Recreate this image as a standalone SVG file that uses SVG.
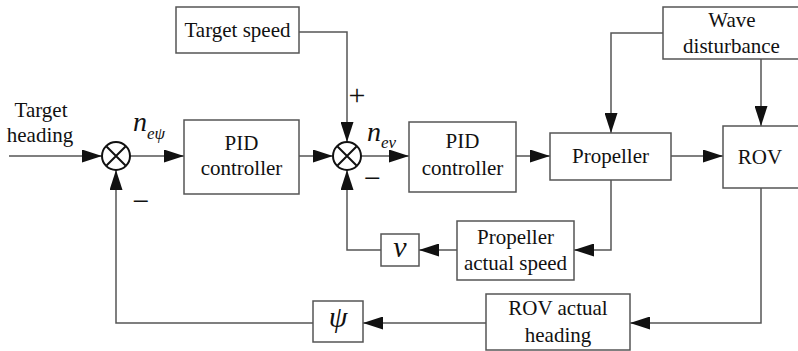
<svg xmlns="http://www.w3.org/2000/svg" width="798" height="351" viewBox="0 0 798 351" font-family="'Liberation Serif', 'Times New Roman', serif">
<defs>
<marker id="arr" markerUnits="userSpaceOnUse" markerWidth="20" markerHeight="13" refX="20" refY="6.5" orient="auto">
<path d="M0,0 L20,6.5 L0,13 z" fill="#111"/>
</marker>
<style>
.box{fill:#fff;stroke:#555;stroke-width:1.5}
.ln{fill:none;stroke:#555;stroke-width:1.5;marker-end:url(#arr)}
.sum{fill:#fff;stroke:#111;stroke-width:2}
.x{stroke:#111;stroke-width:2}
.t{font-family:"Liberation Serif","Times New Roman",serif;font-size:21px;fill:#111;text-anchor:middle}
.m{font-family:"Liberation Serif","Times New Roman",serif;font-style:italic;fill:#111}
.sg{font-family:"Liberation Serif","Times New Roman",serif;font-size:30px;fill:#111;text-anchor:middle}
</style>
</defs>
<rect width="798" height="351" fill="#fff"/>
<g id="connectors">
<path class="ln" d="M9,156 H102"/>
<path class="ln" d="M130,156 H184"/>
<path class="ln" d="M299,156 H333"/>
<path class="ln" d="M299,32 H347 V142"/>
<path class="ln" d="M361,156 H409"/>
<path class="ln" d="M516,156 H550"/>
<path class="ln" d="M671,156 H723"/>
<path class="ln" d="M663,33 H611 V133"/>
<path class="ln" d="M761,59 V126"/>
<path class="ln" d="M611,180 V250 H574"/>
<path class="ln" d="M457,250 H419"/>
<path class="ln" d="M381,250 H347 V170"/>
<path class="ln" d="M761,188 V323 H630"/>
<path class="ln" d="M486,323 H363"/>
<path class="ln" d="M313,323 H116 V170"/>
</g>
<g id="input-label">
<text class="t" x="41" y="117">Target</text>
<text class="t" x="40" y="142">heading</text>
</g>
<g id="sum1">
<circle class="sum" cx="116" cy="156" r="14"/>
<path class="x" d="M106.5,146.5 L125.5,165.5 M125.5,146.5 L106.5,165.5"/>
<text class="sg" x="141" y="210.5">−</text>
</g>
<g id="label-ne-psi">
<text class="m" x="133" y="131" font-size="28">n<tspan font-size="17" dy="8">eψ</tspan></text>
</g>
<g id="pid1">
<rect class="box" x="184" y="120" width="115" height="74"/>
<text class="t" x="241.5" y="150">PID</text>
<text class="t" x="241.5" y="175">controller</text>
</g>
<g id="target-speed">
<rect class="box" x="176" y="7" width="123" height="46"/>
<text class="t" x="237.5" y="37">Target speed</text>
</g>
<g id="sum2">
<circle class="sum" cx="347" cy="156" r="14"/>
<path class="x" d="M337.5,146.5 L356.5,165.5 M356.5,146.5 L337.5,165.5"/>
<text class="sg" x="357" y="104.5">+</text>
<text class="sg" x="372.5" y="187.5">−</text>
</g>
<g id="label-ne-v">
<text class="m" x="367" y="141" font-size="28">n<tspan font-size="17" dy="7">ev</tspan></text>
</g>
<g id="pid2">
<rect class="box" x="409" y="122" width="107" height="70"/>
<text class="t" x="462.5" y="148">PID</text>
<text class="t" x="462.5" y="175">controller</text>
</g>
<g id="propeller">
<rect class="box" x="550" y="133" width="121" height="47"/>
<text class="t" x="610.5" y="163">Propeller</text>
</g>
<g id="rov">
<rect class="box" x="723" y="126" width="80" height="62"/>
<text class="t" x="760" y="164">ROV</text>
</g>
<g id="wave-disturbance">
<rect class="box" x="663" y="7" width="140" height="52"/>
<text class="t" x="732" y="27">Wave</text>
<text class="t" x="731.5" y="53">disturbance</text>
</g>
<g id="propeller-actual-speed">
<rect class="box" x="457" y="221" width="117" height="59"/>
<text class="t" x="515.5" y="244">Propeller</text>
<text class="t" x="515.5" y="270">actual speed</text>
</g>
<g id="v-block">
<rect class="box" x="381" y="234" width="38" height="32"/>
<text class="m" x="400" y="257" font-size="30" text-anchor="middle">v</text>
</g>
<g id="rov-actual-heading">
<rect class="box" x="486" y="294" width="144" height="56"/>
<text class="t" x="558" y="315">ROV actual</text>
<text class="t" x="558" y="342">heading</text>
</g>
<g id="psi-block">
<rect class="box" x="313" y="301" width="50" height="41"/>
<text class="m" x="338" y="327" font-size="30" text-anchor="middle">ψ</text>
</g>
</svg>
